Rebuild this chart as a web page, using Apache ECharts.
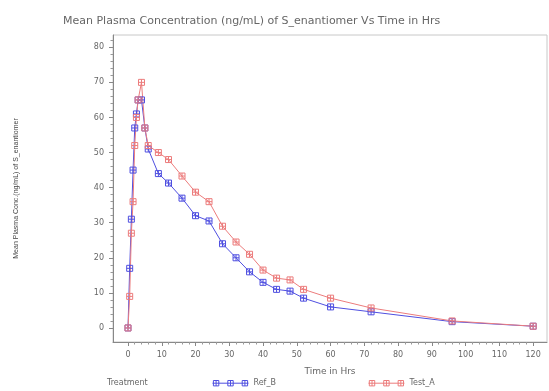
<!DOCTYPE html>
<html><head><meta charset="utf-8">
<script src="https://cdn.jsdelivr.net/npm/echarts@6/dist/echarts.min.js"></script>
<style>html,body{margin:0;padding:0;background:#fff}#c{width:549px;height:391px}</style>
</head><body><div id="c"></div>
<script>
const times = [0, 0.5, 1, 1.5, 2, 2.5, 3, 4, 5, 6, 9, 12, 16, 20, 24, 28, 32, 36, 40, 44, 48, 52, 60, 72, 96, 120];
const refB  = [0, 17, 31, 45, 57, 61, 65, 65, 57, 51, 44, 41.3, 37, 32, 30.5, 24, 20, 16, 13, 11, 10.5, 8.5, 6, 4.6, 1.8, 0.5];
const testA = [0, 9, 27, 36, 52, 60, 65, 70, 57, 52, 50, 48, 43.3, 38.7, 36, 29, 24.5, 21, 16.5, 14.2, 13.7, 11, 8.5, 5.7, 2, 0.5];
const xTicks = [0,10,20,30,40,50,60,70,80,90,100,110,120];
const xMinorTicks = [2,4,6,8,12,14,16,18,22,24,26,28,32,34,36,38,42,44,46,48,52,54,56,58,62,64,66,68,72,74,76,78,82,84,86,88,92,94,96,98,102,104,106,108,112,114,116,118];
const yTicks = [0,10,20,30,40,50,60,70,80];
const yMinorTicks = [2,4,6,8,12,14,16,18,22,24,26,28,32,34,36,38,42,44,46,48,52,54,56,58,62,64,66,68,72,74,76,78,82];
const xRange = [-4.44, 124.1];
const yRange = [-4, 83.5];
const seriesNames = ['Ref_B', 'Test_A'];
const titleText = 'Mean Plasma Concentration (ng/mL) of S_enantiomer Vs Time in Hrs';
const xTitle = 'Time in Hrs';
const yTitle = 'Mean Plasma Conc.(ng/mL) of S_enantiomer';
const legendTitle = 'Treatment';

const blue = '#4f4fe0', red = '#ec7c7c';
const sym = 'path://M0,0H10V10H0Z M5,0V10 M0,5H10';
const legIcon = 'path://M0,4H40 M1,1H7V7H1Z M17,1H23V7H17Z M33,1H39V7H33Z M4,1V7 M20,1V7 M36,1V7';
function mk(arr){ return times.map((t,i)=>[t, arr[i]]); }
const chart = echarts.init(document.getElementById('c'), null, {renderer:'canvas'});
const FF = 'DejaVu Sans, sans-serif';
const axisFont = {fontFamily:FF, fontSize:8, color:'#666'};
const lineC = '#888';
chart.setOption({
  animation:false,
  title:{text:titleText, left:58, top:11, textStyle:{fontFamily:FF, fontSize:11, fontWeight:'normal', color:'#666'}},
  grid:{left:113, right:2, top:35, bottom:49, show:true, borderColor:'#c8c8c8', borderWidth:1},
  xAxis:[
    {type:'value', min:xRange[0], max:xRange[1], position:'bottom',
     axisLine:{show:true, onZero:false, lineStyle:{color:lineC}}, splitLine:{show:false},
     axisTick:{show:true, length:4, customValues:xTicks, lineStyle:{color:lineC}},
     axisLabel:Object.assign({margin:9, customValues:xTicks}, axisFont),
     name:xTitle, nameLocation:'middle', nameGap:25, nameTextStyle:Object.assign({}, axisFont, {fontSize:9})},
    {type:'value', min:xRange[0], max:xRange[1], position:'bottom',
     axisLine:{show:false, onZero:false}, splitLine:{show:false},
     axisTick:{show:true, length:2.5, customValues:xMinorTicks, lineStyle:{color:'#999'}},
     axisLabel:{show:false}}
  ],
  yAxis:[
    {type:'value', min:yRange[0], max:yRange[1], position:'left',
     axisLine:{show:true, onZero:false, lineStyle:{color:lineC}}, splitLine:{show:false},
     axisTick:{show:true, length:4, customValues:yTicks, lineStyle:{color:lineC}},
     axisLabel:Object.assign({margin:9, customValues:yTicks}, axisFont),
     name:yTitle, nameLocation:'middle', nameGap:93, nameRotate:90,
     nameTextStyle:{fontFamily:'Liberation Sans Narrow, Liberation Sans, sans-serif', fontSize:7, color:'#444'}},
    {type:'value', min:yRange[0], max:yRange[1], position:'left',
     axisLine:{show:false, onZero:false}, splitLine:{show:false},
     axisTick:{show:true, length:2.5, customValues:yMinorTicks, lineStyle:{color:'#999'}},
     axisLabel:{show:false}}
  ],
  legend:{top:373, left:205, itemGap:90, itemWidth:36, itemHeight:7,
    textStyle:{fontFamily:FF, fontSize:8, color:'#666'},
    data:[{name:seriesNames[0], icon:legIcon, itemStyle:{color:'none', borderColor:blue, borderWidth:1}},
          {name:seriesNames[1], icon:legIcon, itemStyle:{color:'none', borderColor:red, borderWidth:1}}]},
  graphic:[
    {type:'text', left:107, top:379, style:{text:legendTitle, fontFamily:FF, fontSize:8, fill:'#666'}}
  ],
  series:[
    {name:seriesNames[0], type:'line', data:mk(refB), symbol:sym, symbolSize:6,
     lineStyle:{color:blue, width:1}, itemStyle:{color:'rgba(255,255,255,0)', borderColor:blue, borderWidth:1}},
    {name:seriesNames[1], type:'line', data:mk(testA), symbol:sym, symbolSize:6,
     lineStyle:{color:red, width:1}, itemStyle:{color:'rgba(255,255,255,0)', borderColor:red, borderWidth:1}}
  ]
});
</script></body></html>
